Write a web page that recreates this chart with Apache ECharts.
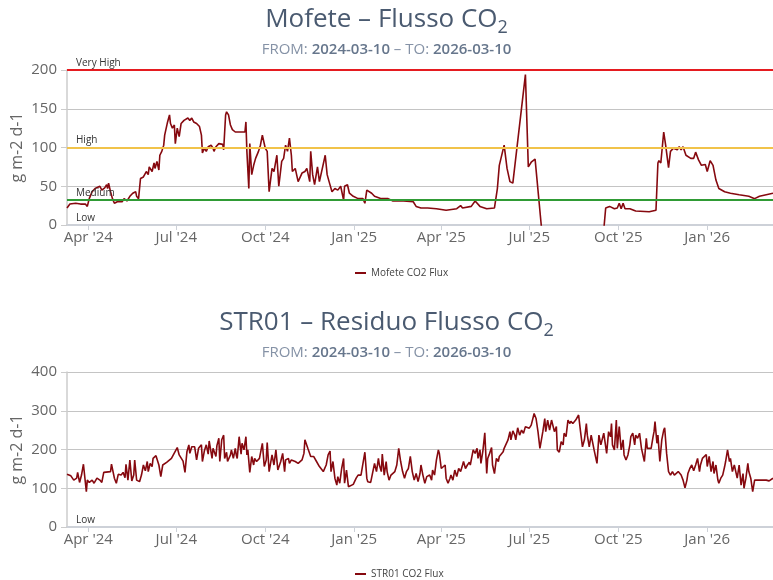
<!DOCTYPE html>
<html>
<head>
<meta charset="utf-8">
<title>Flusso CO2</title>
<script src="https://cdn.jsdelivr.net/npm/echarts@6.0.0/dist/echarts.min.js"></script>
<style>
    html, body { margin: 0; padding: 0; background: #fff; }
    #chart { width: 773px; height: 580px; }
</style>
</head>
<body>
<div id="chart"></div>
<script>
// periodo
const START_DATE = '2024-03-10';
const END_DATE = '2026-03-10';

// etichette asse x
const tickDates = ['2024-04-01', '2024-07-01', '2024-10-01', '2025-01-01', '2025-04-01', '2025-07-01', '2025-10-01', '2026-01-01'];
const tickLabels = ["Apr '24", "Jul '24", "Oct '24", "Jan '25", "Apr '25", "Jul '25", "Oct '25", "Jan '26"];

// soglie Mofete
const levelNames = ['Very High', 'High', 'Medium', 'Low'];
const levelValues = [200, 100, 32, 0];

// Mofete: giorni dal 2024-03-10 / flusso (g m-2 d-1)
const mofeteDays = [
    0, 3, 9, 14, 19, 21, 23, 26, 29, 31,
    34, 36, 39, 41, 42, 43, 45, 47, 49, 52,
    54, 57, 59, 62, 65, 68, 71, 72, 74, 76,
    79, 82, 84, 85, 88, 90, 91, 93, 95, 96,
    98, 100, 101, 103, 104, 106, 107, 109, 111, 112,
    114, 116, 118, 119, 121, 123, 125, 127, 129, 131,
    134, 137, 139, 140, 142, 144, 146, 149, 151, 152,
    154, 157, 159, 161, 162, 164, 165, 167, 169, 171,
    174, 177, 181, 184, 185, 186, 188, 189, 191, 193,
    195, 198, 200, 202, 205, 207, 209, 212, 214, 217,
    219, 222, 224, 226, 228, 230, 232, 233, 236, 239,
    243, 246, 248, 251, 252, 254, 256, 259, 261, 263,
    267, 269, 271, 274, 277, 280, 283, 286, 287, 290,
    292, 296, 301, 306, 308, 310, 312, 315, 318, 325,
    332, 337, 348, 358, 361, 366, 373, 382, 392, 403,
    407, 409, 418, 422, 427, 434, 442, 445, 447, 452,
    455, 458, 461, 474, 477, 480, 484, 524, 557, 561,
    566, 569, 571, 573, 575, 577, 582, 588, 602, 609,
    611, 612, 614, 617, 619, 622, 624, 627, 629, 631,
    633, 635, 637, 640, 645, 648, 650, 653, 656, 660,
    662, 665, 668, 671, 674, 680, 686, 695, 705, 711,
    716, 723, 730
];
const mofeteFlux = [
    22, 27, 28, 27, 27, 24, 34, 43, 47, 45,
    50, 45, 48, 52, 47, 54, 43, 34, 28, 30,
    31, 30, 34, 31, 37, 41, 43, 37, 34, 60,
    62, 69, 65, 75, 69, 80, 73, 82, 71, 90,
    95, 103, 116, 114, 133, 142, 131, 125, 129, 105,
    125, 114, 131, 133, 135, 133, 138, 135, 138, 133,
    131, 127, 116, 93, 99, 95, 101, 103, 99, 95,
    101, 105, 105, 104, 97, 142, 146, 142, 129, 123,
    120, 120, 120, 120, 133, 95, 47, 105, 65, 77,
    86, 95, 103, 116, 99, 95, 43, 73, 69, 90,
    50, 82, 86, 103, 95, 112, 90, 69, 73, 56,
    67, 69, 73, 56, 95, 65, 52, 75, 56, 56,
    90, 65, 56, 43, 47, 45, 50, 32, 50, 52,
    41, 37, 34, 34, 28, 45, 47, 41, 37, 34,
    34, 31, 31, 30, 24, 22, 22, 21, 19, 21,
    25, 22, 24, 31, 24, 21, 22, 47, 77, 103,
    73, 56, 54, 194, 75, 81, 85, -450, 22, 24,
    21, 22, 28, 21, 28, 21, 21, 18, 17, 19,
    80, 83, 80, 120, 103, 74, 95, 99, 101, 97,
    101, 97, 101, 90, 86, 86, 94, 84, 77, 78,
    69, 83, 77, 58, 47, 43, 41, 39, 37, 34,
    37, 39, 41
];

// STR01: giorni dal 2024-03-10 / residuo flusso (g m-2 d-1)
const str01Days = [
    0, 4, 7, 10, 11, 13, 15, 17, 20, 21,
    23, 26, 28, 31, 34, 36, 38, 45, 46, 49,
    51, 53, 56, 58, 60, 61, 63, 65, 67, 69,
    70, 72, 75, 77, 79, 81, 83, 84, 86, 88,
    89, 92, 95, 97, 99, 103, 108, 114, 116, 120,
    122, 124, 126, 127, 129, 132, 134, 136, 139, 140,
    142, 144, 146, 147, 150, 151, 153, 154, 155, 157,
    158, 160, 162, 163, 165, 166, 169, 170, 172, 174,
    175, 176, 178, 180, 181, 183, 185, 186, 187, 189,
    191, 193, 194, 196, 199, 202, 204, 206, 207, 209,
    212, 214, 216, 218, 221, 223, 225, 226, 229, 230,
    232, 236, 239, 243, 245, 246, 248, 249, 252, 255,
    258, 261, 265, 268, 270, 272, 273, 275, 277, 279,
    280, 282, 284, 286, 287, 289, 291, 293, 296, 299,
    301, 303, 304, 306, 308, 310, 311, 314, 316, 318,
    320, 322, 323, 325, 326, 328, 330, 331, 333, 335,
    337, 339, 341, 343, 345, 347, 349, 351, 353, 355,
    357, 359, 361, 363, 365, 366, 368, 370, 372, 373,
    375, 377, 378, 380, 382, 384, 385, 387, 389, 391,
    392, 394, 396, 397, 399, 401, 403, 405, 407, 409,
    410, 412, 414, 416, 417, 419, 420, 422, 424, 425,
    427, 428, 430, 432, 434, 435, 437, 439, 440, 442,
    444, 446, 447, 449, 451, 452, 454, 456, 458, 459,
    461, 463, 464, 466, 468, 470, 472, 474, 476, 478,
    480, 482, 483, 485, 487, 489, 490, 492, 494, 495,
    497, 499, 501, 502, 504, 506, 507, 509, 511, 513,
    514, 516, 518, 520, 521, 523, 525, 526, 528, 529,
    531, 533, 535, 537, 538, 540, 542, 544, 545, 547,
    548, 550, 552, 553, 555, 557, 558, 560, 562, 563,
    564, 566, 568, 569, 571, 573, 575, 576, 578, 580,
    582, 583, 585, 587, 588, 590, 592, 594, 595, 597,
    599, 600, 602, 604, 606, 607, 608, 610, 611, 613,
    615, 617, 618, 620, 622, 624, 626, 628, 630, 632,
    635, 637, 639, 641, 642, 644, 646, 648, 650, 652,
    654, 655, 657, 659, 661, 662, 664, 666, 668, 669,
    671, 673, 674, 676, 678, 680, 681, 683, 685, 686,
    688, 690, 692, 693, 695, 697, 699, 700, 702, 704,
    705, 707, 709, 711, 712, 716, 723, 724, 726, 730
];
const str01Flux = [
    136, 132, 121, 126, 141, 115, 134, 162, 91, 121,
    115, 121, 113, 126, 121, 115, 141, 143, 162, 126,
    113, 136, 134, 141, 127, 162, 121, 173, 119, 134,
    173, 121, 117, 134, 160, 145, 169, 143, 164, 156,
    177, 184, 160, 130, 160, 167, 177, 205, 186, 170,
    141, 194, 212, 190, 207, 207, 173, 203, 212, 169,
    196, 212, 188, 222, 177, 203, 207, 182, 210, 229,
    169, 225, 237, 177, 193, 169, 186, 199, 177, 203,
    186, 177, 233, 188, 216, 199, 233, 186, 199, 141,
    182, 160, 177, 169, 177, 216, 156, 173, 218, 143,
    186, 160, 199, 147, 169, 190, 143, 173, 177, 164,
    173, 169, 164, 173, 190, 225, 222, 203, 182, 182,
    169, 156, 143, 160, 186, 196, 143, 169, 126, 108,
    130, 113, 151, 177, 113, 147, 104, 107, 110, 126,
    134, 138, 134, 134, 193, 126, 117, 115, 113, 164,
    143, 177, 160, 143, 188, 134, 169, 143, 121, 134,
    138, 143, 160, 203, 169, 143, 126, 143, 151, 182,
    143, 121, 138, 117, 138, 160, 134, 113, 130, 126,
    134, 121, 147, 134, 173, 199, 190, 151, 151, 160,
    126, 113, 126, 134, 121, 147, 130, 151, 143, 160,
    169, 151, 160, 167, 160, 160, 199, 190, 203, 177,
    199, 164, 196, 243, 138, 177, 190, 205, 160, 138,
    177, 169, 182, 177, 194, 203, 199, 225, 246, 225,
    248, 237, 225, 256, 237, 250, 242, 259, 263, 255,
    263, 267, 293, 280, 246, 203, 199, 246, 280, 246,
    276, 250, 276, 272, 246, 259, 199, 193, 220, 212,
    242, 233, 276, 267, 273, 267, 263, 276, 276, 289,
    246, 207, 225, 267, 237, 207, 237, 212, 199, 199,
    164, 237, 212, 207, 242, 237, 190, 246, 233, 267,
    212, 199, 276, 203, 259, 199, 225, 186, 173, 186,
    212, 233, 242, 212, 237, 229, 242, 203, 207, 169,
    229, 203, 207, 203, 233, 246, 272, 216, 237, 169,
    225, 250, 256, 190, 143, 134, 143, 134, 138, 143,
    134, 121, 101, 121, 138, 151, 160, 145, 160, 177,
    143, 160, 177, 182, 187, 156, 182, 143, 169, 138,
    160, 121, 113, 126, 134, 156, 169, 199, 169, 177,
    143, 160, 156, 126, 160, 108, 138, 100, 126, 164,
    143, 126, 91, 121, 119, 121, 121, 126, 119, 126
];

const DAY = 86400000;
const t0 = Date.parse(START_DATE);
const t1 = Date.parse(END_DATE);
const tickTimes = tickDates.map(s => Date.parse(s));
const toSeries = (days, vals) => days.map((d, i) => [t0 + d * DAY, vals[i]]);

const font = "'Open Sans', sans-serif";
const fluxColor = '#86090f';
const levelColors = ['#e51b20', '#f1c34a', '#2f9b35', 'rgba(0,0,0,0)'];

// asse x in millisecondi, tacche solo all'inizio dei trimestri
const xAxisFor = gridIndex => ({
    type: 'value',
    gridIndex,
    min: t0,
    max: t1,
    axisLine: { lineStyle: { color: '#cdd1d8', width: 2 } },
    axisTick: { show: true, customValues: tickTimes, length: 5, lineStyle: { color: '#cdd1d8' } },
    axisLabel: {
        customValues: tickTimes,
        margin: 5,
        fontSize: 15,
        color: '#666',
        fontFamily: font,
        formatter: v => tickLabels[tickTimes.indexOf(v)] || ''
    },
    splitLine: { show: false }
});

const yAxisFor = (gridIndex, max, interval) => ({
    type: 'value',
    gridIndex,
    min: 0,
    max,
    interval,
    name: 'g m-2 d-1',
    nameLocation: 'middle',
    nameGap: 42,
    nameMoveOverlap: false,
    nameTextStyle: { fontSize: 16, color: '#666', fontFamily: font },
    axisLine: { show: true, lineStyle: { color: '#ccc', width: 1.5 } },
    axisTick: { show: true, length: 6, lineStyle: { color: '#ccc' } },
    axisLabel: { margin: 10, fontSize: 15, color: '#666', fontFamily: font },
    splitLine: { lineStyle: { color: '#c4c4c4', width: 1 } }
});

const levelLine = i => ({
    yAxis: levelValues[i],
    lineStyle: { color: levelColors[i], width: 2, type: 'solid' },
    label: {
        show: true,
        formatter: levelNames[i],
        position: 'insideStartTop',
        distance: [9, 2],
        fontSize: 10,
        color: '#333',
        fontFamily: font
    }
});

const titleRich = {
    t: { fontSize: 26, fontWeight: 'normal', lineHeight: 34, color: '#4a5a70', fontFamily: font },
    s: { fontSize: 18, fontWeight: 'normal', lineHeight: 18, verticalAlign: 'bottom', color: '#4a5a70', fontFamily: font }
};
const subRich = {
    l: { fontSize: 15, fontWeight: 'normal', color: '#8592a6', fontFamily: font },
    b: { fontSize: 15, fontWeight: 600, color: '#66768c', fontFamily: font }
};
const subText = '{l|FROM: }{b|' + START_DATE + '}{l| – TO: }{b|' + END_DATE + '}';

const legendFor = (name, top) => ({
    data: [name],
    left: 350,
    top,
    icon: 'rect',
    itemWidth: 11,
    itemHeight: 2,
    textStyle: { fontSize: 10, color: '#444', fontFamily: font }
});

const chart = echarts.init(document.getElementById('chart'));

chart.setOption({
    animation: false,
    title: [
        { text: '{t|Mofete – Flusso CO}{s|2}', left: 'center', top: -2, textStyle: { fontWeight: 'normal', rich: titleRich } },
        { text: subText, left: 'center', top: 37, textStyle: { fontWeight: 'normal', rich: subRich } },
        { text: '{t|STR01 – Residuo Flusso CO}{s|2}', left: 'center', top: 301, textStyle: { fontWeight: 'normal', rich: titleRich } },
        { text: subText, left: 'center', top: 340, textStyle: { fontWeight: 'normal', rich: subRich } }
    ],
    legend: [legendFor('Mofete CO2 Flux', 263), legendFor('STR01 CO2 Flux', 564)],
    grid: [
        { left: 67, right: 0, top: 70, height: 155, outerBoundsMode: 'none' },
        { left: 67, right: 0, top: 372, height: 155, outerBoundsMode: 'none' }
    ],
    xAxis: [xAxisFor(0), xAxisFor(1)],
    yAxis: [yAxisFor(0, 200, 50), yAxisFor(1, 400, 100)],
    series: [
        {
            name: 'Mofete CO2 Flux',
            type: 'line',
            xAxisIndex: 0,
            yAxisIndex: 0,
            symbol: 'none',
            clip: true,
            lineStyle: { color: fluxColor, width: 1.6 },
            itemStyle: { color: fluxColor },
            data: toSeries(mofeteDays, mofeteFlux),
            markLine: {
                symbol: 'none',
                silent: true,
                data: levelNames.map((n, i) => levelLine(i))
            }
        },
        {
            name: 'STR01 CO2 Flux',
            type: 'line',
            xAxisIndex: 1,
            yAxisIndex: 1,
            symbol: 'none',
            clip: true,
            lineStyle: { color: fluxColor, width: 1.6 },
            itemStyle: { color: fluxColor },
            data: toSeries(str01Days, str01Flux),
            markLine: {
                symbol: 'none',
                silent: true,
                data: [levelLine(3)]
            }
        }
    ]
});
</script>
</body>
</html>
